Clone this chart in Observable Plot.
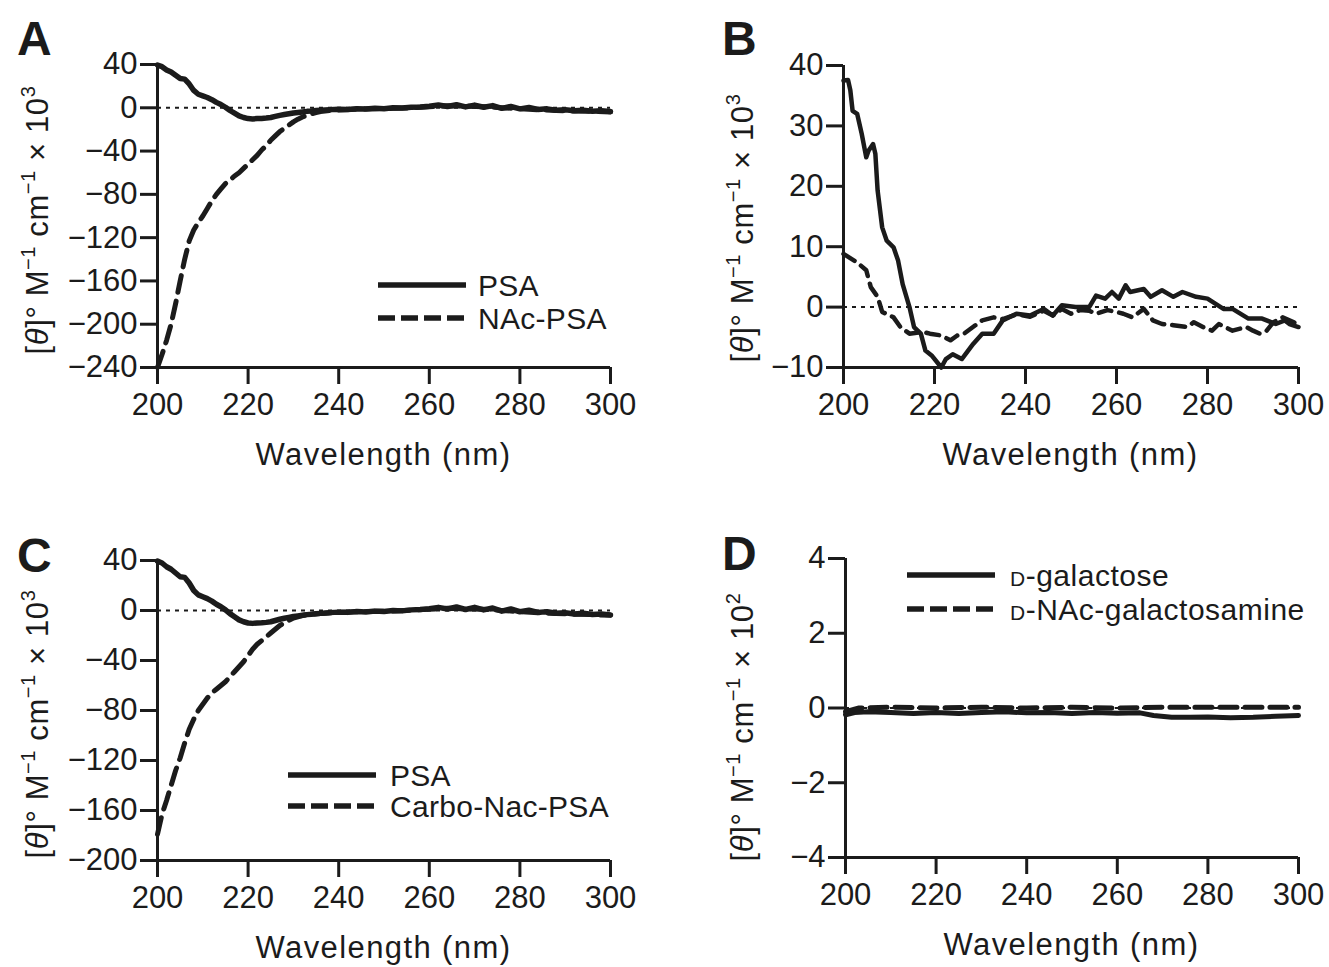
<!DOCTYPE html>
<html><head><meta charset="utf-8">
<script src="https://cdn.jsdelivr.net/npm/d3@7"></script>
<script src="https://cdn.jsdelivr.net/npm/@observablehq/plot@0.6"></script>
<style>
body{margin:0;background:#fff;}
#fig{position:relative;width:1329px;height:967px;overflow:hidden;background:#fff;}
#fig svg{position:absolute;}
</style></head><body><div id="fig"></div>
<script>
// ---------- DATA ----------
const xTicks = [200, 220, 240, 260, 280, 300];
const yTicksA = [40, 0, -40, -80, -120, -160, -200, -240];
const yTicksB = [40, 30, 20, 10, 0, -10];
const yTicksC = [40, 0, -40, -80, -120, -160, -200];
const yTicksD = [4, 2, 0, -2, -4];

// Panel A / C : PSA (solid)
const psaWl  = [200,201,202,203,204,205,206,207,208,209,210,211,212,213,214,215,216,217,218,219,220,221,222,223,224,225,226,227,228,229,230,231,232,233,234,235,236,237,238,239,240,242,244,246,248,250,252,254,256,258,260,262,264,266,268,270,272,274,276,278,280,282,284,286,288,290,292,294,296,298,300];
const psaVal = [39.5,38,35,33,30,27,26.5,22,16,12.5,11,9.5,7.5,5,3,0.5,-2.5,-5,-7.5,-9,-10,-10.3,-10,-9.8,-9.5,-9,-8,-7,-6.2,-5.5,-4.8,-4.3,-3.8,-3.3,-3,-2.6,-2.3,-2,-1.7,-1.5,-1.3,-1.5,-0.8,-1.2,-0.5,-0.8,0,-0.3,0.5,0.8,1.5,2.5,1.2,2.8,0.8,2.5,0.5,2,-0.5,1.2,-1,0.2,-1.5,-1,-2.2,-1.8,-2.8,-2.2,-3.2,-2.8,-3.5];

// Panel A : NAc-PSA (dashed)
const nacWl  = [200,201,202,203,204,205,206,207,208,209,210,211,212,213,214,215,216,217,218,219,220,221,222,223,224,225,226,227,228,229,230,231,232,233,234,235,236,238,240,244,248,252,256,260,264,268,272,276,280,284,288,292,296,300];
const nacVal = [-240,-228,-215,-200,-181,-160,-140,-123,-113,-106,-100,-93,-86,-80,-75,-70,-67,-63,-60,-56,-52,-48,-44,-39,-35,-30,-26,-22,-19,-16,-13,-10.5,-8.5,-7,-5.5,-4.5,-3.5,-2.5,-2,-1.2,-0.8,-0.5,0,1,1.8,1.5,1,0,-0.8,-1.8,-2.5,-3,-3.3,-3.8];

// Panel C : Carbo-Nac-PSA (dashed)
const carboWl  = [200,201,202,203,204,205,206,207,208,209,210,211,212,213,214,215,216,217,218,219,220,221,222,223,224,225,226,227,228,229,230,231,232,234,236,238,240,244,248,252,256,260,264,268,272,276,280,284,288,292,296,300];
const carboVal = [-179,-163,-152,-140,-128,-118,-106,-95,-87,-80,-75,-70,-66,-63,-60,-57,-53,-49,-45,-41,-36,-31,-27,-24,-21,-18,-15,-12,-10,-8,-6,-5,-4,-3,-2.5,-2,-1.5,-1,-0.6,-0.4,0.2,1,1.8,1.4,1,0,-0.8,-1.8,-2.4,-3,-3.3,-3.8];

// Panel B : PSA (solid)
const bPsaWl  = [200,201,201.5,202,203,204,205,205.5,206.5,207,207.5,208.5,209.5,211,212,213,214.5,215.5,217,218,219.5,221.5,222.5,224,226,228.5,230.5,233,235,238,241,244,246,248,251,254,255.5,257.5,259,260.5,262,263,266,267.5,270,272.5,274.5,277.5,280,283.5,285.5,289,292,295,297,298,300];
const bPsaVal = [37.5,37.6,35.9,32.5,32,28.7,24.8,25.9,27,25.4,19.3,13.2,11,9.9,7.7,3.8,0,-3.3,-4.4,-7.2,-8.1,-10,-8.6,-7.8,-8.6,-6.1,-4.4,-4.4,-2.2,-1.1,-1.4,-0.3,-1.4,0.3,0,0,1.9,1.4,2.5,1.4,3.6,2.5,3,1.7,2.8,1.7,2.5,1.7,1.4,-0.3,-0.3,-1.9,-1.9,-2.8,-2.2,-2.8,-3.3];

// Panel B : NAc-PSA (dashed)
const bNacWl  = [200,203,205,206,207.5,208.5,211,212.5,214.5,217.5,219,221.5,223.5,225,226.5,229,230.5,233,235,238,241,244,246,248,250,252,254,255.5,258,260,261.5,263.5,266,268,270,272.5,275.5,277,279,281,282.5,285.5,288.5,290,291.5,293,294.5,296.5,299,300];
const bNacVal = [8.8,7.4,6.1,3.3,1.7,-0.8,-1.7,-3.3,-4.4,-4.1,-4.4,-4.7,-5.5,-4.7,-4.4,-3,-2.2,-1.7,-2,-1.2,-1.6,-0.6,-1.4,-0.3,-1.1,-0.5,-0.6,-1.1,-0.5,-0.8,-1.1,-1.7,-0.3,-2.2,-2.8,-3,-3.3,-2.5,-3.3,-3.9,-2.8,-3.9,-3.3,-3.9,-4.4,-3.9,-2.5,-1.7,-2.5,-3.3];

// Panel D : D-galactose (solid), D-NAc-galactosamine (dashed), ×10^2
const galWl  = [200,202,205,210,215,220,225,230,235,240,245,250,255,260,265,268,272,276,280,285,290,295,300];
const galVal = [-0.18,-0.12,-0.1,-0.12,-0.15,-0.12,-0.15,-0.12,-0.1,-0.13,-0.12,-0.15,-0.12,-0.14,-0.13,-0.2,-0.25,-0.25,-0.24,-0.26,-0.25,-0.22,-0.2];
const galnacWl  = [200,203,210,220,230,240,250,260,270,280,290,300];
const galnacVal = [-0.1,0,0.02,0,0.02,0,0.02,0,0.02,0.02,0.02,0.02];

const legendA = ["PSA", "NAc-PSA"];
const legendC = ["PSA", "Carbo-Nac-PSA"];
const legendD = ["-galactose", "-NAc-galactosamine"]; // each preceded by a small-capital "D"
const xLabel = "Wavelength (nm)";

// ---------- HELPERS ----------
const zip = (w, v) => w.map((d, i) => ({wl: d, v: v[i]}));
const FONT = "'Liberation Sans', Arial, Helvetica, sans-serif";
const INK = "#1b1b1b";
const fmt = d => d < 0 ? "\u2212" + Math.abs(d) : String(d);

function panel(cfg) {
  const svg = Plot.plot({
    width: cfg.width, height: cfg.height,
    marginLeft: cfg.ml, marginRight: cfg.mr, marginTop: cfg.mt, marginBottom: cfg.mb,
    x: {domain: [200, 300]},
    y: {domain: cfg.yDomain},
    style: {fontFamily: FONT, fontSize: "31px", color: INK, background: "transparent", overflow: "visible"},
    marks: [
      Plot.ruleY([0], {stroke: INK, strokeWidth: 2, strokeDasharray: "4,5"}),
      ...cfg.series.map(s => Plot.line(s.data, {x: "wl", y: "v", stroke: INK, strokeWidth: s.w, strokeDasharray: s.dash, strokeLinejoin: "round"})),
      Plot.ruleX([200], {stroke: INK, strokeWidth: 3}),
      Plot.ruleY([cfg.yDomain[0]], {stroke: INK, strokeWidth: 3}),
      Plot.axisX({ticks: xTicks, tickSize: 17, tickPadding: 8, strokeWidth: 3, fontSize: 31, label: null, tickFormat: fmt}),
      Plot.axisY({ticks: cfg.yTicks, tickSize: 17, tickPadding: 3, strokeWidth: 3, fontSize: 31, label: null, tickFormat: fmt})
    ]
  });
  svg.style.left = cfg.left + "px";
  svg.style.top = cfg.top + "px";
  document.getElementById("fig").appendChild(svg);
  const s = d3.select(svg);
  const pw = cfg.width - cfg.ml - cfg.mr;

  // panel letter
  s.append("text").attr("x", cfg.letterX).attr("y", cfg.letterY).attr("text-anchor", "start")
    .style("font-family", FONT).style("font-weight", "bold").style("font-size", "48px").attr("fill", INK).text(cfg.letter);

  // x label
  s.append("text").attr("x", cfg.ml + pw / 2).attr("y", cfg.height - cfg.mb + 98)
    .attr("text-anchor", "middle").style("font-family", FONT).style("font-size", "31px")
    .style("letter-spacing", "1.4px").attr("fill", INK).text(xLabel);

  // y label
  const t = s.append("text").attr("transform", `translate(${cfg.ylx},${cfg.yly}) rotate(-90)`)
    .attr("text-anchor", "middle").style("font-family", FONT).style("font-size", "31px")
    .style("letter-spacing", "0.6px").attr("fill", INK);
  t.append("tspan").text("[");
  t.append("tspan").style("font-style", "italic").text("\u03B8");
  t.append("tspan").text("]\u00B0 M");
  t.append("tspan").attr("dy", -13).style("font-size", "20px").text("\u22121");
  t.append("tspan").attr("dy", 13).text(" cm");
  t.append("tspan").attr("dy", -13).style("font-size", "20px").text("\u22121");
  t.append("tspan").attr("dy", 13).text(" \u00D7 10");
  t.append("tspan").attr("dy", -13).style("font-size", "20px").text(cfg.exp);

  // legend
  cfg.legend.forEach((lab, i) => {
    const y = cfg.lg.y0 + i * cfg.lg.dy;
    s.append("line").attr("x1", cfg.lg.x1).attr("x2", cfg.lg.x2).attr("y1", y).attr("y2", y)
      .attr("stroke", INK).attr("stroke-width", 5.5).attr("stroke-dasharray", i ? cfg.lg.dash : null);
    const tx = s.append("text").attr("x", cfg.lg.tx).attr("y", y).attr("dy", "0.36em").attr("text-anchor", "start")
      .style("font-family", FONT).style("font-size", cfg.lg.fs + "px").style("letter-spacing", cfg.lg.ls + "px").attr("fill", INK);
    if (cfg.lg.smallD) tx.append("tspan").style("font-size", "21px").text("D");
    tx.append("tspan").text(lab);
  });
}

panel({
  letter: "A", letterX: 17, letterY: 55, exp: "3",
  left: 0, top: 0, width: 664, height: 483, ml: 157, mr: 54, mt: 64, mb: 116, ylx: 48, yly: 220,
  yDomain: [-240, 40], yTicks: yTicksA,
  series: [
    {data: zip(psaWl, psaVal), w: 5.5, dash: null},
    {data: zip(nacWl, nacVal), w: 5, dash: "17,9"}
  ],
  legend: legendA, lg: {x1: 378, x2: 466, tx: 478, y0: 285, dy: 33, dash: "17,6", fs: 30, ls: 0.3}
});

panel({
  letter: "B", letterX: 58, letterY: 55, exp: "3",
  left: 664, top: 0, width: 665, height: 483, ml: 179, mr: 31, mt: 65, mb: 116, ylx: 89, yly: 228,
  yDomain: [-10, 40], yTicks: yTicksB,
  series: [
    {data: zip(bPsaWl, bPsaVal), w: 4.5, dash: null},
    {data: zip(bNacWl, bNacVal), w: 4.5, dash: "13,8"}
  ],
  legend: [], lg: {}
});

panel({
  letter: "C", letterX: 17, letterY: 89, exp: "3",
  left: 0, top: 483, width: 664, height: 484, ml: 157, mr: 54, mt: 77, mb: 107, ylx: 48, yly: 241,
  yDomain: [-200, 40], yTicks: yTicksC,
  series: [
    {data: zip(psaWl, psaVal), w: 5.5, dash: null},
    {data: zip(carboWl, carboVal), w: 5, dash: "17,9"}
  ],
  legend: legendC, lg: {x1: 288, x2: 376, tx: 390, y0: 292, dy: 31, dash: "17,6", fs: 30, ls: 0.3}
});

panel({
  letter: "D", letterX: 58, letterY: 87, exp: "2",
  left: 664, top: 483, width: 665, height: 484, ml: 181, mr: 31, mt: 75, mb: 110, ylx: 89, yly: 244,
  yDomain: [-4, 4], yTicks: yTicksD,
  series: [
    {data: zip(galWl, galVal), w: 5, dash: null},
    {data: zip(galnacWl, galnacVal), w: 5, dash: "17,8"}
  ],
  legend: legendD, lg: {x1: 243, x2: 331, tx: 346, y0: 92, dy: 34, dash: "17,6", fs: 30, ls: 0.5, smallD: true}
});
</script></body></html>
